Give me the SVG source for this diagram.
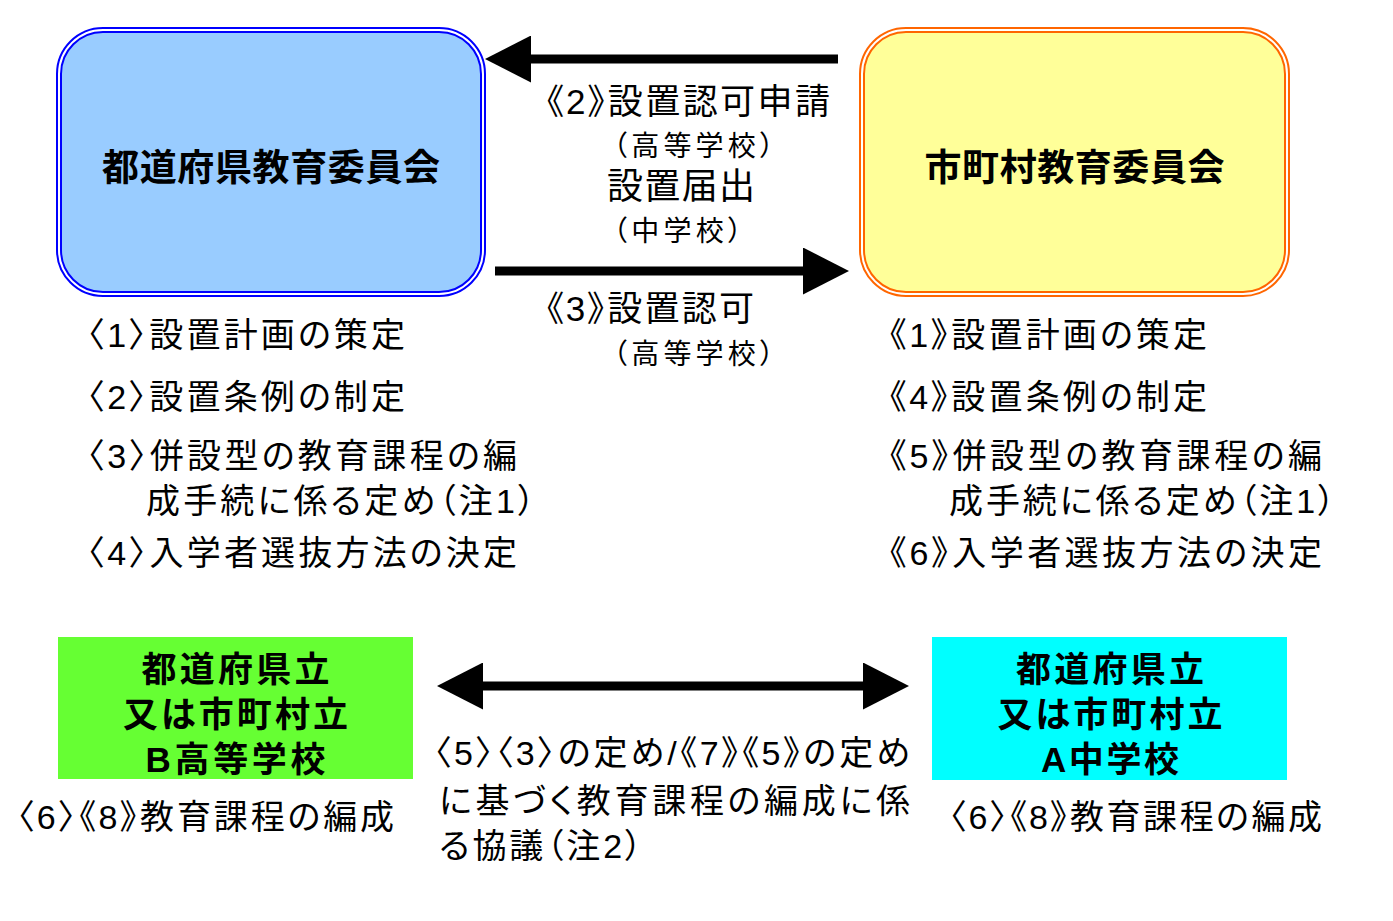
<svg xmlns="http://www.w3.org/2000/svg" width="1393" height="921" viewBox="0 0 1393 921">
<style>
text{font-family:"Liberation Sans","Noto Sans CJK JP",sans-serif;fill:#000;font-feature-settings:"palt";}
.t{font-size:34px;}
.m{font-size:35px;}
.s{font-size:28px;}
.b{font-size:37px;font-weight:bold;text-anchor:middle;}
.bb{font-size:35px;font-weight:bold;text-anchor:middle;}
.arrow{stroke:#000;stroke-width:9;fill:none;}
</style>
<defs>
<marker id="ah" markerUnits="userSpaceOnUse" markerWidth="46" markerHeight="47" viewBox="0 0 46 47" refX="0" refY="23.5" orient="auto-start-reverse">
<path d="M0,0 L46,23.5 L0,47 Z" fill="#000"/>
</marker>
</defs>
<rect width="1393" height="921" fill="#fff"/>

<g id="pref-board">
<rect x="59" y="30" width="424" height="264" rx="44" fill="#99CCFF" stroke="#0000FF" stroke-width="6"/>
<rect x="59" y="30" width="424" height="264" rx="44" fill="none" stroke="#fff" stroke-width="2"/>
<text class="b" x="271" y="181" textLength="338">都道府県教育委員会</text>
</g>

<g id="muni-board">
<rect x="862" y="30" width="425" height="264" rx="44" fill="#FFFF99" stroke="#FF6600" stroke-width="6"/>
<rect x="862" y="30" width="425" height="264" rx="44" fill="none" stroke="#fff" stroke-width="2"/>
<text class="b" x="1074.5" y="181" textLength="300">市町村教育委員会</text>
</g>

<g id="high-school">
<rect x="58" y="637" width="355" height="142" fill="#66FF33"/>
<text class="bb" x="235.5" y="682" textLength="188">都道府県立</text>
<text class="bb" x="235.5" y="727" textLength="225">又は市町村立</text>
<text class="bb" x="235.5" y="772" textLength="180">B高等学校</text>
</g>

<g id="junior-school">
<rect x="932" y="637" width="355" height="143" fill="#00FFFF"/>
<text class="bb" x="1110" y="682" textLength="188">都道府県立</text>
<text class="bb" x="1110" y="727" textLength="225">又は市町村立</text>
<text class="bb" x="1110" y="772" textLength="138">A中学校</text>
</g>

<g id="connectors">
<line class="arrow" x1="838" y1="59" x2="531" y2="59" marker-end="url(#ah)"/>
<line class="arrow" x1="495" y1="271" x2="803" y2="271" marker-end="url(#ah)"/>
<line class="arrow" x1="483" y1="686" x2="863" y2="686" marker-start="url(#ah)" marker-end="url(#ah)"/>
</g>

<g id="arrow-labels">
<text class="m" x="546" y="114" textLength="284">《2》設置認可申請</text>
<text class="s" x="613" y="156" textLength="161">（高等学校）</text>
<text class="m" x="607" y="199" textLength="148" style="font-size:36px">設置届出</text>
<text class="s" x="613" y="241" textLength="129">（中学校）</text>
<text class="m" x="546" y="321" textLength="208">《3》設置認可</text>
<text class="s" x="613" y="364" textLength="161">（高等学校）</text>
<text class="t" x="434" y="765" textLength="476">〈5〉〈3〉の定め/《7》《5》の定め</text>
<text class="t" x="439" y="813" textLength="471">に基づく教育課程の編成に係</text>
<text class="t" x="439" y="858" textLength="203">る協議（注2）</text>
</g>

<g id="pref-tasks">
<text class="t" x="87" y="347" textLength="318">〈1〉設置計画の策定</text>
<text class="t" x="87" y="409" textLength="318">〈2〉設置条例の制定</text>
<text class="t" x="87" y="468" textLength="430">〈3〉併設型の教育課程の編</text>
<text class="t" x="146" y="513" textLength="389">成手続に係る定め（注1）</text>
<text class="t" x="87" y="565" textLength="430">〈4〉入学者選抜方法の決定</text>
<text class="t" x="17" y="829" textLength="377">〈6〉《8》教育課程の編成</text>
</g>

<g id="muni-tasks">
<text class="t" x="889" y="347" textLength="318">《1》設置計画の策定</text>
<text class="t" x="889" y="409" textLength="318">《4》設置条例の制定</text>
<text class="t" x="889" y="468" textLength="433">《5》併設型の教育課程の編</text>
<text class="t" x="949" y="513" textLength="386">成手続に係る定め（注1）</text>
<text class="t" x="889" y="565" textLength="433">《6》入学者選抜方法の決定</text>
<text class="t" x="949" y="829" textLength="373">〈6〉《8》教育課程の編成</text>
</g>
</svg>
